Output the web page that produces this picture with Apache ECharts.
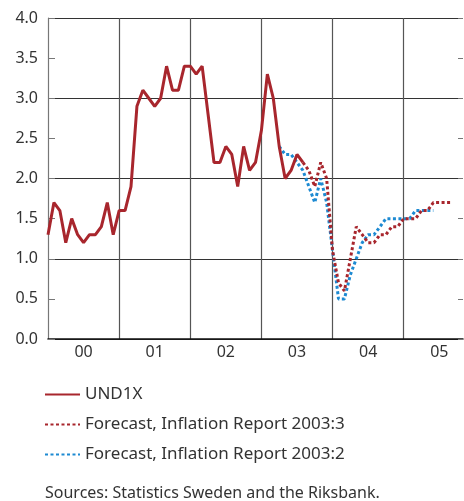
<!DOCTYPE html>
<html>
<head>
<meta charset="utf-8">
<script src="https://cdn.jsdelivr.net/npm/echarts@6/dist/echarts.min.js"></script>
<style>
  html, body { margin: 0; padding: 0; background: #fff; }
  #chart { width: 464px; height: 501px; }
</style>
</head>
<body>
<div id="chart"></div>
<script>
  // monthly values, Jan 2000 onwards
  const years = ['2000', '2001', '2002', '2003', '2004', '2005']
  const monthNames = ['01', '02', '03', '04', '05', '06', '07', '08', '09', '10', '11', '12']
  const und1x = [
    1.3, 1.7, 1.6, 1.2, 1.5, 1.3, 1.2, 1.3, 1.3, 1.4, 1.7, 1.3,
    1.6, 1.6, 1.9, 2.9, 3.1, 3.0, 2.9, 3.0, 3.4, 3.1, 3.1, 3.4,
    3.4, 3.3, 3.4, 2.8, 2.2, 2.2, 2.4, 2.3, 1.9, 2.4, 2.1, 2.2,
    2.6, 3.3, 3.0, 2.4, 2.0, 2.1, 2.3, 2.2
  ]
  // IR 2003:3 forecast starts Aug 2003 (index 43)
  const forecast3Start = 43
  const forecast3 = [
    2.2, 2.1, 1.9, 2.2, 2.0,
    1.1, 0.7, 0.6, 1.0, 1.4, 1.3, 1.2, 1.2, 1.3, 1.3, 1.4, 1.4,
    1.5, 1.5, 1.5, 1.6, 1.6, 1.7, 1.7, 1.7, 1.7
  ]
  // IR 2003:2 forecast starts Apr 2003 (index 39)
  const forecast2Start = 39
  const forecast2 = [
    2.4, 2.3, 2.3, 2.2, 2.1, 1.9, 1.7, 2.0, 1.7,
    1.1, 0.5, 0.5, 0.8, 1.0, 1.2, 1.3, 1.3, 1.4, 1.5, 1.5, 1.5,
    1.5, 1.5, 1.6, 1.6, 1.6, 1.6
  ]

  const categories = []
  years.forEach(y => monthNames.forEach(m => categories.push(y + '-' + m)))
  categories.length = 71

  const pad = (start, arr) => new Array(start).fill('-').concat(arr)

  const font = 'Noto Sans'
  const red = '#a8262d'
  const blue = '#1d8ad2'

  const chart = echarts.init(document.getElementById('chart'))
  const option = {
    animation: false,
    grid: { left: 48, top: 18, right: 1, bottom: 162, containLabel: false },
    legend: {
      orient: 'vertical',
      left: 39,
      top: 380,
      itemWidth: 35,
      itemHeight: 12,
      itemGap: 11,
      itemStyle: { opacity: 0 },
      textStyle: { fontFamily: font, fontSize: 17, color: '#333', lineHeight: 19 },
      data: ['UND1X', 'Forecast, Inflation Report 2003:3', 'Forecast, Inflation Report 2003:2']
    },
    graphic: [{
      type: 'text',
      left: 45,
      top: 485,
      style: { text: 'Sources: Statistics Sweden and the Riksbank.', fontFamily: font, fontSize: 16, fill: '#333' }
    }],
    xAxis: {
      type: 'category',
      boundaryGap: false,
      data: categories,
      axisLine: { lineStyle: { color: '#111', width: 1.5 } },
      axisTick: { show: false },
      axisLabel: {
        interval: (i) => i % 12 === 6,
        formatter: (v) => v.slice(2, 4),
        fontFamily: font,
        fontSize: 16,
        color: '#333',
        margin: 5
      },
      splitLine: {
        show: true,
        interval: (i) => i > 0 && i % 12 === 0,
        lineStyle: { color: '#555', width: 1.2 }
      }
    },
    yAxis: [
      {
        type: 'value',
        position: 'left',
        min: 0,
        max: 4,
        interval: 0.5,
        axisLine: { show: true, lineStyle: { color: '#777', width: 1.2 } },
        axisTick: { show: true, inside: true, length: 7, lineStyle: { color: '#777' } },
        axisLabel: {
          formatter: (v) => v.toFixed(1),
          fontFamily: font,
          fontSize: 16,
          color: '#333',
          margin: 10
        },
        splitLine: { show: false }
      },
      {
        type: 'value',
        position: 'right',
        min: 0,
        max: 4,
        interval: 0.5,
        axisLine: { show: false },
        axisTick: { show: true, inside: true, length: 5, lineStyle: { color: '#777' } },
        axisLabel: { show: false },
        splitLine: { show: false }
      },
      {
        type: 'value',
        position: 'right',
        min: 0,
        max: 4,
        interval: 1,
        axisLine: { show: false },
        axisTick: { show: false },
        axisLabel: { show: false },
        splitLine: { show: true, lineStyle: { color: '#333', width: 1.2 } }
      }
    ],
    series: [
      {
        name: 'UND1X',
        type: 'line',
        data: und1x,
        symbol: 'none',
        z: 5,
        lineStyle: { color: red, width: 3 },
        itemStyle: { color: red }
      },
      {
        name: 'Forecast, Inflation Report 2003:3',
        type: 'line',
        data: pad(forecast3Start, forecast3),
        symbol: 'none',
        z: 4,
        lineStyle: { color: red, width: 3, type: [3, 2.5] },
        itemStyle: { color: red }
      },
      {
        name: 'Forecast, Inflation Report 2003:2',
        type: 'line',
        data: pad(forecast2Start, forecast2),
        symbol: 'none',
        z: 3,
        lineStyle: { color: blue, width: 3, type: [3, 2.5] },
        itemStyle: { color: blue }
      }
    ]
  }
  chart.setOption(option)
</script>
</body>
</html>
